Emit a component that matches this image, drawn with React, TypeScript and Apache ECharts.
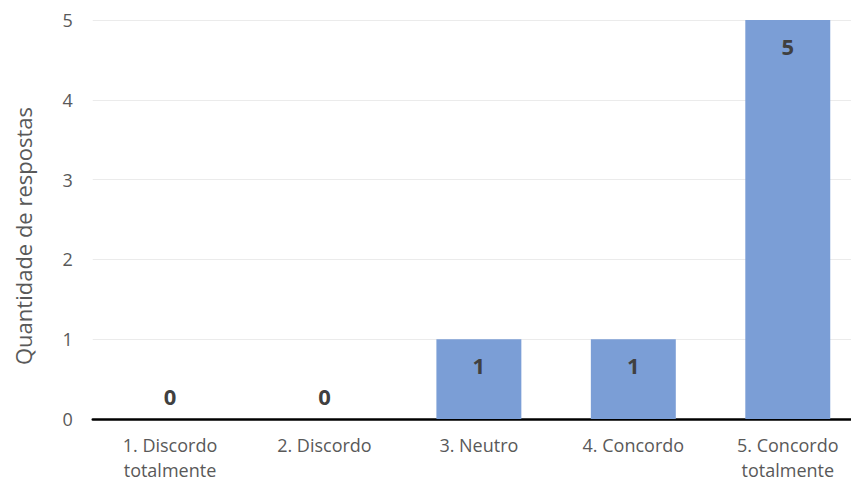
import React, { useEffect, useRef } from "react";
import * as echarts from "echarts";

const categories = ["1. Discordo\ntotalmente", "2. Discordo", "3. Neutro", "4. Concordo", "5. Concordo\ntotalmente"];
const values = [0, 0, 1, 1, 5];
const yTicks = [0, 1, 2, 3, 4, 5];
const yAxisTitle = "Quantidade de respostas";

const FONT = "'Open Sans', sans-serif";

export default function App() {
  const ref = useRef<HTMLDivElement>(null);
  useEffect(() => {
    if (!ref.current) return;
    const chart = echarts.init(ref.current, null, { renderer: "svg" });
    chart.setOption({
      animation: false,
      backgroundColor: "#ffffff",
      grid: { left: 92.75, right: 15, top: 20, bottom: 63, containLabel: false, outerBoundsMode: "none" },
      graphic: [
        {
          type: "text",
          x: 23,
          y: 236,
          rotation: Math.PI / 2,
          style: {
            text: yAxisTitle,
            font: `22px ${FONT}`,
            fill: "#595959",
            align: "center",
            verticalAlign: "middle",
          },
        },
      ],
      xAxis: {
        type: "category",
        data: categories,
        axisTick: { show: false },
        axisLine: { lineStyle: { color: "#000000", width: 2.5 } },
        axisLabel: {
          color: "#595959",
          fontFamily: FONT,
          fontSize: 18,
          lineHeight: 24.5,
          margin: 14,
          interval: 0,
        },
      },
      yAxis: {
        type: "value",
        min: yTicks[0],
        max: yTicks[yTicks.length - 1],
        interval: 1,
        axisLine: { show: false },
        axisTick: { show: false },
        splitLine: { lineStyle: { color: "#ebebeb", width: 1 } },
        axisLabel: {
          color: "#595959",
          fontFamily: FONT,
          fontSize: 18,
          margin: 20,
        },
      },
      series: [
        {
          type: "bar",
          barWidth: "55%",
          data: values.map((v) => ({
            value: v,
            label:
              v === 0
                ? { position: "top", distance: 12 }
                : { position: "insideTop", distance: 15 },
          })),
          itemStyle: { color: "#7b9ed6" },
          label: {
            show: true,
            color: "#404040",
            fontFamily: FONT,
            fontWeight: "bold",
            fontSize: 22,
            lineHeight: 22,
          },
        },
      ],
    });
    return () => chart.dispose();
  }, []);
  return (
    <div style={{ position: "absolute", left: 0, top: 0, width: 851, height: 482, overflow: "hidden", background: "#fff" }}>
      <div ref={ref} style={{ width: 880, height: 482 }} />
    </div>
  );
}
